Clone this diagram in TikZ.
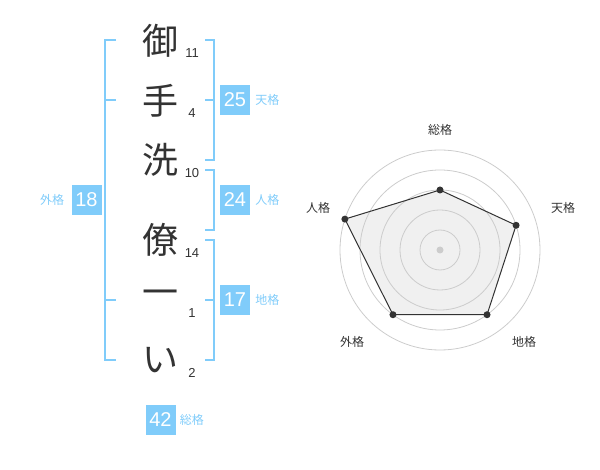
\documentclass[tikz,border=0pt]{standalone}
\usepackage{fontspec}
\setmainfont{Liberation Sans}
\newfontfamily\jp{Noto Sans CJK JP}
\usetikzlibrary{positioning}
\definecolor{kakublue}{RGB}{128,204,250}
\definecolor{moji}{RGB}{51,51,51}
\definecolor{radarfill}{RGB}{240,240,240}
\definecolor{ring}{RGB}{204,204,204}
\tikzset{
  kanji/.style={text=moji,font=\jp\fontsize{36}{36}\selectfont,inner sep=0pt},
  kakusu/.style={text=moji,font=\fontsize{13}{13}\selectfont,inner sep=0pt},
  kakubox/.style={fill=kakublue,text=white,minimum width=30pt,minimum height=30pt,inner sep=0pt,font=\fontsize{20}{20}\selectfont},
  kakuname/.style={text=kakublue,font=\jp\fontsize{12}{12}\selectfont,inner sep=0pt},
  bracket/.style={draw=kakublue,line width=2pt},
  radarname/.style={text=moji,font=\jp\fontsize{12}{12}\selectfont,inner sep=0pt},
  dot/.style={circle,fill=moji,inner sep=0pt,minimum size=7pt}
}
\begin{document}
\begin{tikzpicture}[x=1pt,y=-1pt]
\useasboundingbox (0,0) rectangle (600,470);
\node[kanji] (sei1) at (160,41) {御};
\node[kanji] (sei2) at (160,101) {手};
\node[kanji] (sei3) at (160,160) {洗};
\node[kanji] (mei1) at (160,240) {僚};
\node[kanji] (mei2) at (160,298) {一};
\node[kanji] (mei3) at (160,360) {い};
\node[kakusu] at (192,53) {11};
\node[kakusu] at (192,113) {4};
\node[kakusu] at (192,173) {10};
\node[kakusu] at (192,253) {14};
\node[kakusu] at (192,313) {1};
\node[kakusu] at (192,373) {2};
\draw[bracket] (116,40)--(105,40)--(105,360)--(116,360);
\draw[bracket] (105,100)--(116,100) (105,300)--(116,300);
\draw[bracket] (205,40)--(214,40)--(214,160)--(205,160);
\draw[bracket] (205,100)--(214,100);
\draw[bracket] (205,170)--(214,170)--(214,230)--(205,230);
\draw[bracket] (205,240)--(214,240)--(214,360)--(205,360);
\draw[bracket] (205,300)--(214,300);
\node[kakubox] (ten) at (235,100) {25};
\node[kakuname,right=5pt of ten] {天格};
\node[kakubox] (jin) at (235,200) {24};
\node[kakuname,right=5pt of jin] {人格};
\node[kakubox] (chi) at (235,300) {17};
\node[kakuname,right=5pt of chi] {地格};
\node[kakubox] (gai) at (86.5,200) {18};
\node[kakuname,left=7pt of gai] {外格};
\node[kakubox] (sou) at (160.5,419.5) {42};
\node[kakuname,right=4pt of sou] {総格};
\begin{scope}[shift={(440,250)},y=1pt]
\coordinate (pSou) at (90:60);
\coordinate (pTen) at (18:80);
\coordinate (pChi) at (-54:80);
\coordinate (pGai) at (-126:80);
\coordinate (pJin) at (162:100);
\fill[radarfill] (pSou)--(pTen)--(pChi)--(pGai)--(pJin)--cycle;
\foreach \r in {20,40,...,100}
  \draw[ring,line width=0.8pt] (0,0) circle (\r);
\fill[ring] (0,0) circle (3.5);
\draw[moji,line width=1pt] (pSou)--(pTen)--(pChi)--(pGai)--(pJin)--cycle;
\foreach \p in {pSou,pTen,pChi,pGai,pJin}
  \node[dot] at (\p) {};
\node[radarname] (lSou) at (0,120) {総格};
\node[radarname] (lTen) at (123,42) {天格};
\node[radarname] (lChi) at (84,-92) {地格};
\node[radarname] (lGai) at (-88,-92) {外格};
\node[radarname] (lJin) at (-122,42) {人格};
\end{scope}
\end{tikzpicture}
\end{document}
